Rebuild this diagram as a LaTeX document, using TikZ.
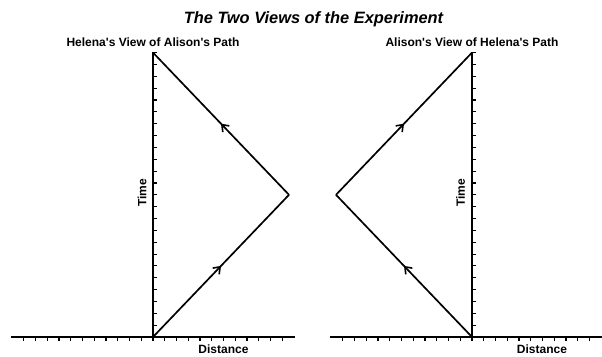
\documentclass[tikz,border=0pt]{standalone}
\usepackage{fontspec}
\setmainfont{Liberation Sans}
\usetikzlibrary{arrows.meta,decorations.markings}
\newcommand{\aq}{\textquotesingle}
\begin{document}
\begin{tikzpicture}[x=1pt,y=-1pt,
  axis/.style={line width=1.5pt, line cap=rect},
  tick/.style={line width=1.1pt},
  pathline/.style={line width=1.7pt, line join=miter,
    postaction={decorate, decoration={markings,
      mark=at position 0.5 with {\arrow{Straight Barb[length=6pt,width=9pt,line width=1.6pt]}}}}},
  lab/.style={font=\bfseries\fontsize{12}{14}\selectfont, inner sep=0pt},
  ttl/.style={font=\bfseries\itshape\fontsize{16.4}{19}\selectfont, inner sep=0pt}]
\useasboundingbox (0,0) rectangle (602,356);
\fill[white] (0,0) rectangle (602,356);
% title
\node[ttl] (title) at (313.5,19) {The Two Views of the Experiment};
% ---------- left panel ----------
\coordinate (LO) at (153,337);
\coordinate (LT) at (153,52.6);
\coordinate (LP) at (289,194.8);
\coordinate (LXa) at (12,337);
\coordinate (LXb) at (294,337);
\draw[axis] (LXa) -- (LXb);
\draw[axis] (LO) -- (LT);
\foreach \k in {-11,...,11} {\draw[tick] (153+11.75*\k,337) -- ++(0,3.5);}
\foreach \k in {1,...,24} {\draw[tick] (153,337-11.85*\k) -- ++(3.5,0);}
\draw[pathline] (LO) -- (LP);
\draw[pathline] (LP) -- (LT);
\node[lab] (lsub) at (153,42.5) {Helena\aq s View of Alison\aq s Path};
\node[lab, rotate=90] (ltime) at (142,193) {Time};
\node[lab] (ldist) at (223.5,349) {Distance};
% ---------- right panel ----------
\coordinate (RO) at (472,337);
\coordinate (RT) at (472,52.6);
\coordinate (RP) at (336,194.8);
\coordinate (RXa) at (331,337);
\coordinate (RXb) at (602,337);
\draw[axis] (RXa) -- (RXb);
\draw[axis] (RO) -- (RT);
\foreach \k in {-11,...,10} {\draw[tick] (472+11.75*\k,337) -- ++(0,3.5);}
\foreach \k in {1,...,24} {\draw[tick] (472,337-11.85*\k) -- ++(3.5,0);}
\draw[pathline] (RO) -- (RP);
\draw[pathline] (RP) -- (RT);
\node[lab] (rsub) at (472,42.5) {Alison\aq s View of Helena\aq s Path};
\node[lab, rotate=90] (rtime) at (460.5,193) {Time};
\node[lab] (rdist) at (542,349) {Distance};
\end{tikzpicture}
\end{document}
